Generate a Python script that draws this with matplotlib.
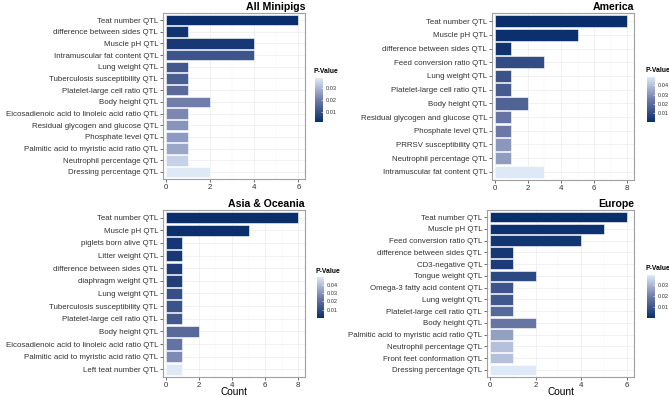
import matplotlib
matplotlib.use("Agg")
import matplotlib.pyplot as plt
import numpy as np
from matplotlib.colors import LinearSegmentedColormap, Normalize
from matplotlib.cm import ScalarMappable

plt.rcParams['font.family'] = ['Liberation Sans', 'DejaVu Sans']

# ---- data (bars listed top to bottom) ----
all_traits = ["Teat number QTL", "difference between sides QTL", "Muscle pH QTL",
              "Intramuscular fat content QTL", "Lung weight QTL", "Tuberculosis susceptibility QTL",
              "Platelet-large cell ratio QTL", "Body height QTL",
              "Eicosadienoic acid to linoleic acid ratio QTL", "Residual glycogen and glucose QTL",
              "Phosphate level QTL", "Palmitic acid to myristic acid ratio QTL",
              "Neutrophil percentage QTL", "Dressing percentage QTL"]
all_counts = [6, 1, 4, 4, 1, 1, 1, 2, 1, 1, 1, 1, 1, 2]
all_pvals = [0.0017, 0.003, 0.004, 0.011, 0.012, 0.013, 0.016, 0.020, 0.022, 0.024, 0.025, 0.027, 0.034, 0.038]

am_traits = ["Teat number QTL", "Muscle pH QTL", "difference between sides QTL",
             "Feed conversion ratio QTL", "Lung weight QTL", "Platelet-large cell ratio QTL",
             "Body height QTL", "Residual glycogen and glucose QTL", "Phosphate level QTL",
             "PRRSV susceptibility QTL", "Neutrophil percentage QTL", "Intramuscular fat content QTL"]
am_counts = [8, 5, 1, 3, 1, 1, 2, 1, 1, 1, 1, 3]
am_pvals = [0.0005, 0.001, 0.002, 0.010, 0.012, 0.015, 0.017, 0.023, 0.024, 0.031, 0.032, 0.049]

as_traits = ["Teat number QTL", "Muscle pH QTL", "piglets born alive QTL", "Litter weight QTL",
             "difference between sides QTL", "diaphragm weight QTL", "Lung weight QTL",
             "Tuberculosis susceptibility QTL", "Platelet-large cell ratio QTL", "Body height QTL",
             "Eicosadienoic acid to linoleic acid ratio QTL",
             "Palmitic acid to myristic acid ratio QTL", "Left teat number QTL"]
as_counts = [8, 5, 1, 1, 1, 1, 1, 1, 1, 2, 1, 1, 1]
as_pvals = [0.0003, 0.001, 0.003, 0.004, 0.005, 0.006, 0.011, 0.012, 0.014, 0.019, 0.022, 0.028, 0.049]

eu_traits = ["Teat number QTL", "Muscle pH QTL", "Feed conversion ratio QTL",
             "difference between sides QTL", "CD3-negative QTL", "Tongue weight QTL",
             "Omega-3 fatty acid content QTL", "Lung weight QTL", "Platelet-large cell ratio QTL",
             "Body height QTL", "Palmitic acid to myristic acid ratio QTL",
             "Neutrophil percentage QTL", "Front feet conformation QTL", "Dressing percentage QTL"]
eu_counts = [6, 5, 4, 1, 1, 2, 1, 1, 1, 2, 1, 1, 1, 2]
eu_pvals = [0.0003, 0.001, 0.002, 0.003, 0.004, 0.007, 0.010, 0.011, 0.015, 0.018, 0.026, 0.032, 0.032, 0.039]

cmap = LinearSegmentedColormap.from_list("pv", [(0, "#0a2e6c"), (0.5, "#6f7ba8"), (1, "#dde9f7")])

W, H = 669, 397
fig = plt.figure(figsize=(W / 100, H / 100), dpi=100)


def rect(x0, y0, x1, y1):
    # pixel box (top-left origin) -> figure fraction
    return [x0 / W, 1 - y1 / H, (x1 - x0) / W, (y1 - y0) / H]


def panel(box, cbox, traits, counts, pvals, title, xticks, xlabel):
    ax = fig.add_axes(rect(*box))
    n = len(traits)
    y = np.arange(n)[::-1]
    norm = Normalize(min(pvals), max(pvals))
    ax.barh(y, counts, height=0.9, color=cmap(norm(np.array(pvals))),
            edgecolor="white", linewidth=0.4, zorder=3)
    xmax = max(counts)
    ax.set_xlim(-0.02 * xmax, xmax * 1.05)
    ax.set_ylim(-0.6, n - 0.4)
    ax.set_yticks(y)
    ax.set_yticklabels(traits, fontsize=5.7, color="#333333")
    ax.set_xticks(xticks)
    ax.set_xticklabels([str(t) for t in xticks], fontsize=5.7, color="#333333")
    ax.set_xticks(np.array(xticks[:-1]) + (xticks[1] - xticks[0]) / 2, minor=True)
    ax.tick_params(axis="both", length=2, width=0.5, color="#333333", pad=1.5)
    ax.tick_params(axis="x", which="minor", length=0)
    ax.grid(True, which="major", color="#ebebeb", lw=0.5, zorder=0)
    ax.grid(True, which="minor", axis="x", color="#f3f3f3", lw=0.3, zorder=0)
    for s in ax.spines.values():
        s.set_color("#a0a0a0")
        s.set_linewidth(0.8)
    ax.set_title(title, loc="right", fontsize=7.6, fontweight="bold", pad=2)
    if xlabel:
        ax.set_xlabel(xlabel, fontsize=7.3, labelpad=-1)
    cax = fig.add_axes(rect(*cbox))
    cb = fig.colorbar(ScalarMappable(norm=norm, cmap=cmap), cax=cax)
    cb.outline.set_visible(False)
    ticks = [t for t in [0.01, 0.02, 0.03, 0.04, 0.05] if norm.vmin <= t <= norm.vmax]
    cb.set_ticks(ticks)
    cb.set_ticklabels([f"{t:.2f}" for t in ticks])
    cax.tick_params(labelsize=4.1, length=1.5, width=0.4, color="white",
                    direction="in", pad=2, labelcolor="#333333")
    cax.text(-0.2, 1.06, "P-Value", transform=cax.transAxes, fontsize=4.9,
             fontweight="bold", ha="left", va="bottom")


panel((163, 13, 305, 179), (315, 78, 323, 122), all_traits, all_counts, all_pvals,
      "All Minipigs", [0, 2, 4, 6], None)
panel((492, 13, 634, 180), (647, 77, 655, 122), am_traits, am_counts, am_pvals,
      "America", [0, 2, 4, 6, 8], None)
panel((163, 210, 305, 377), (317, 277, 324, 318), as_traits, as_counts, as_pvals,
      "Asia & Oceania", [0, 2, 4, 6, 8], "Count")
panel((487, 210, 634, 377), (647, 275, 655, 318), eu_traits, eu_counts, eu_pvals,
      "Europe", [0, 2, 4, 6], "Count")

fig.savefig("out.png", dpi=100)
